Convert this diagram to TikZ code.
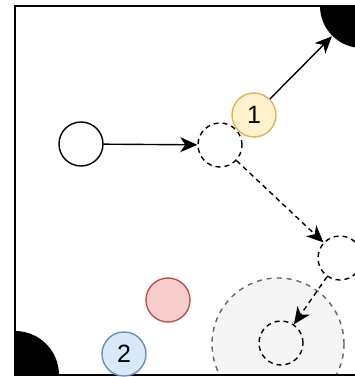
\documentclass[tikz,border=0pt]{standalone}
\usepackage{fontspec}
\setsansfont{Liberation Sans}
\usetikzlibrary{arrows.meta,positioning}

\definecolor{yelfill}{HTML}{FFF2CC}
\definecolor{yeldraw}{HTML}{D6B656}
\definecolor{redfill}{HTML}{F8CECC}
\definecolor{reddraw}{HTML}{B85450}
\definecolor{blufill}{HTML}{DAE8FC}
\definecolor{bludraw}{HTML}{6C8EBF}
\definecolor{zonefill}{HTML}{F5F5F5}
\definecolor{zonedraw}{HTML}{666666}

\begin{document}
\begin{tikzpicture}[x=1pt,y=-1pt,>={Stealth[length=17pt,width=15pt,inset=5pt]},
  line width=1.4pt,
  ball/.style={circle,draw,minimum size=44pt,inner sep=0pt,
    font=\sffamily\fontsize{25}{25}\selectfont},
  ghost/.style={ball,dash pattern=on 5pt off 4pt},
  pocket/.style={circle,fill=black,inner sep=0pt},
  zone/.style={circle,fill=zonefill,draw=zonedraw,minimum size=132pt,
    dash pattern=on 5pt off 5pt}]
  \useasboundingbox (0,0) rectangle (355,377);
  \clip (0,0) rectangle (355,377);

  % table, pockets and the target zone
  \begin{scope}
    \clip (15,6) rectangle (420,375);
    \node[zone] (Z) at (278,344) {};
    \node[pocket,minimum size=84pt] (PT) at (362,6) {};
    \node[pocket,minimum size=88pt] (PB) at (15,375) {};
  \end{scope}
  \draw[line width=2.2pt] (420,6) -- (15,6) -- (15,375) -- (420,375);

  % balls
  \node[ball] (W) at (81,144) {};
  \node[ghost] (G1) at (220,145) {};
  \node[ghost] (G2) at (340,258) {};
  \node[ghost] (G3) at (281,343) {};
  \node[ball,fill=yelfill,draw=yeldraw] (B1) at (254,115) {1};
  \node[ball,fill=redfill,draw=reddraw] (R) at (168,300) {};
  \node[ball,fill=blufill,draw=bludraw] (B2) at (124,354) {2};

  \path[->]
     (W) edge (G1)
     (B1) edge (PT);
  \path[->,dash pattern=on 5pt off 4pt]
     (G1) edge (G2)
     (G2) edge (G3);
\end{tikzpicture}
\end{document}
